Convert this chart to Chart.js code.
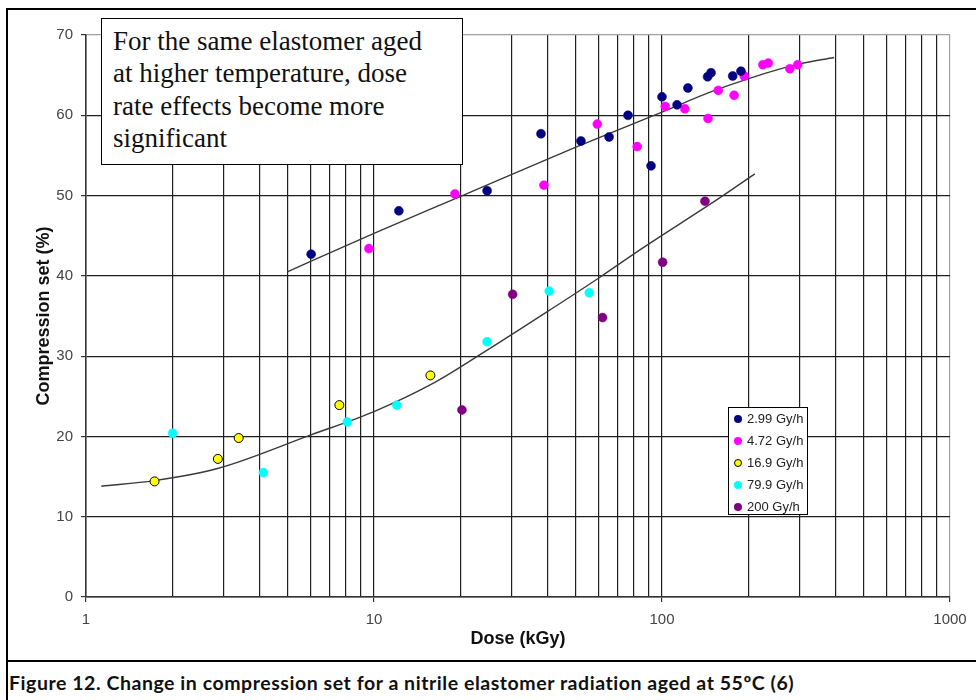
<!DOCTYPE html>
<html>
<head>
<meta charset="utf-8">
<title>Compression set vs dose</title>
<script src="https://cdn.jsdelivr.net/npm/chart.js@4.4.0/dist/chart.umd.min.js"></script>
<style>
  body { margin: 0; background: #fff; }
  #page { position: relative; width: 976px; height: 700px; overflow: hidden; background: #fff; }
  #chart { position: absolute; left: 0; top: 0; }
  .rule { position: absolute; background: #000; }
  #note {
    position: absolute; left: 101px; top: 18px; width: 362px; height: 147px;
    box-sizing: border-box; border: 1px solid #000; background: #fff;
    padding: 5.6px 0 0 11px;
    font-family: "Liberation Serif", "Times New Roman", serif; font-size: 27px; line-height: 32.5px; color: #111;
  }
  #legend {
    position: absolute; left: 728px; top: 407px; width: 80px; height: 108px;
    box-sizing: border-box; border: 1px solid #000; background: #fff;
    font-family: "Liberation Sans", Arial, sans-serif; font-size: 13px; color: #222;
  }
  #legend div { position: relative; height: 22px; line-height: 22px; padding-left: 18px; white-space: nowrap; }
  #legend span { position: absolute; left: 5px; top: 7px; width: 8px; height: 8px; border-radius: 50%; box-sizing: border-box; }
  #caption {
    position: absolute; left: 9px; top: 671px; white-space: nowrap;
    font-family: Lato, "Open Sans", sans-serif; font-weight: bold; font-size: 19.5px; letter-spacing: 0.55px; color: #111;
  }
</style>
</head>
<body>
<div id="page">
  <canvas id="chart" width="976" height="660"></canvas>
  <div class="rule" style="left:6px; top:8px; width:970px; height:2px;"></div>
  <div class="rule" style="left:6px; top:8px; width:2px; height:692px;"></div>
  <div class="rule" style="left:6px; top:660px; width:970px; height:2px;"></div>
  <div id="note">For the same elastomer aged<br>at higher temperature, dose<br>rate effects become more<br>significant</div>
  <div id="legend"></div>
  <div id="caption">Figure 12. Change in compression set for a nitrile elastomer radiation aged at 55ºC (6)</div>
</div>
<script>
// decade labels on the dose axis, with grid lines at 1..9 x each decade
const doseDecades = [1, 10, 100, 1000];
const gridSteps = [1, 2, 3, 4, 5, 6, 7, 8, 9];

// dose (kGy) and compression set (%) for each dose rate
const dose299 = [6.05, 12.2, 24.7, 38, 52.3, 65.5, 76.2, 91.6, 100, 112.8, 123, 144, 148, 176, 188];
const set299 = [42.7, 48.1, 50.6, 57.7, 56.8, 57.3, 60.0, 53.7, 62.3, 61.3, 63.4, 64.8, 65.3, 64.9, 65.5];

const dose472 = [9.6, 19.1, 38.9, 59.6, 82, 102.6, 120, 144.5, 156.8, 178, 193, 224, 234, 278, 296];
const set472 = [43.4, 50.2, 51.3, 58.9, 56.1, 61.1, 60.8, 59.6, 63.1, 62.5, 64.9, 66.3, 66.5, 65.8, 66.3];

const dose169 = [1.73, 2.87, 3.39, 7.58, 15.7];
const set169 = [14.4, 17.2, 19.8, 23.9, 27.6];

const dose799 = [2.0, 4.13, 8.08, 12.0, 24.7, 40.6, 55.9];
const set799 = [20.4, 15.5, 21.8, 23.9, 31.8, 38.1, 37.9];

const dose200 = [20.2, 30.3, 62.2, 100.5, 141];
const set200 = [23.3, 37.7, 34.8, 41.7, 49.3];

// hand-fitted trend curves
const trendUpperDose = [5, 10, 20, 50, 100, 150, 205, 300, 396];
const trendUpperSet = [40.5, 45.3, 49.9, 56.0, 60.4, 63.0, 64.7, 66.4, 67.2];
const trendLowerDose = [1.13, 1.73, 2.86, 6.04, 10, 16.2, 24.1, 40.6, 60.7, 84.3, 160, 210];
const trendLowerSet = [13.8, 14.5, 16.0, 20.2, 23.1, 26.7, 30.5, 35.7, 39.8, 43.3, 49.8, 52.7];

const seriesNames = ['2.99 Gy/h', '4.72 Gy/h', '16.9 Gy/h', '79.9 Gy/h', '200 Gy/h'];
const seriesColors = ['#000080', '#ff00ff', '#ffff00', '#00ffff', '#800080'];
const seriesDose = [dose299, dose472, dose169, dose799, dose200];
const seriesSet = [set299, set472, set169, set799, set200];

const toPoints = (xs, ys) => xs.map((x, i) => ({ x: x, y: ys[i] }));

const datasets = seriesNames.map((name, i) => ({
  label: name,
  data: toPoints(seriesDose[i], seriesSet[i]),
  backgroundColor: seriesColors[i],
  borderColor: i === 2 ? '#000' : seriesColors[i],
  pointBorderWidth: i === 2 ? 1 : 0.5,
  pointRadius: 4.5,
  showLine: false,
  order: 0,
}));

[[trendUpperDose, trendUpperSet], [trendLowerDose, trendLowerSet]].forEach(([xs, ys]) => {
  datasets.push({
    label: 'trend',
    data: toPoints(xs, ys),
    showLine: true,
    borderColor: '#3a3a3a',
    borderWidth: 1.4,
    pointRadius: 0,
    cubicInterpolationMode: 'monotone',
    order: 1,
  });
});

// legend box
const legend = document.getElementById('legend');
seriesNames.forEach((name, i) => {
  const row = document.createElement('div');
  const dot = document.createElement('span');
  dot.style.background = seriesColors[i];
  if (i === 2) dot.style.border = '1px solid #000';
  row.appendChild(dot);
  row.appendChild(document.createTextNode(name));
  legend.appendChild(row);
});

const gridColor = '#1e1e1e';
const frameColor = '#a0a0a0';

new Chart(document.getElementById('chart'), {
  type: 'scatter',
  data: { datasets: datasets },
  options: {
    responsive: false,
    animation: false,
    events: [],
    layout: { padding: { left: 20, right: 26, top: 35, bottom: 0 } },
    plugins: { legend: { display: false }, tooltip: { enabled: false } },
    scales: {
      x: {
        type: 'logarithmic',
        min: 1,
        max: 1000,
        afterFit: (scale) => { scale.height = 63; },
        afterBuildTicks: (scale) => {
          const ticks = [];
          doseDecades.forEach((d) => gridSteps.forEach((s) => {
            if (d * s <= 1000) ticks.push({ value: d * s, major: s === 1 });
          }));
          scale.ticks = ticks;
        },
        ticks: {
          autoSkip: false,
          maxRotation: 0,
          padding: 9,
          color: '#444',
          font: { family: 'Liberation Sans', size: 15 },
          callback: (value) => doseDecades.includes(value) ? String(value) : '',
        },
        grid: {
          color: (ctx) => ctx.tick && ctx.tick.value === 1000 ? frameColor : gridColor,
          tickColor: (ctx) => ctx.tick && doseDecades.includes(ctx.tick.value) ? '#333' : 'rgba(0,0,0,0)',
          tickLength: 5,
          lineWidth: 1.2,
        },
        border: { color: '#333', width: 1.5 },
        title: {
          display: true,
          text: 'Dose (kGy)',
          color: '#111',
          font: { family: 'Liberation Sans', size: 18, weight: 'bold' },
          padding: { top: 0, bottom: 10 },
        },
      },
      y: {
        min: 0,
        max: 70,
        afterFit: (scale) => { scale.width = 66; },
        ticks: {
          stepSize: 10,
          padding: 8,
          color: '#444',
          font: { family: 'Liberation Sans', size: 15 },
        },
        grid: {
          color: (ctx) => ctx.tick && ctx.tick.value === 70 ? frameColor : gridColor,
          tickColor: '#333',
          tickLength: 5,
          lineWidth: 1.2,
        },
        border: { color: '#333', width: 1.5 },
        title: {
          display: true,
          text: 'Compression set (%)',
          color: '#111',
          font: { family: 'Liberation Sans', size: 18, weight: 'bold' },
          padding: { top: 13, bottom: 0 },
        },
      },
    },
  },
});
</script>
</body>
</html>
